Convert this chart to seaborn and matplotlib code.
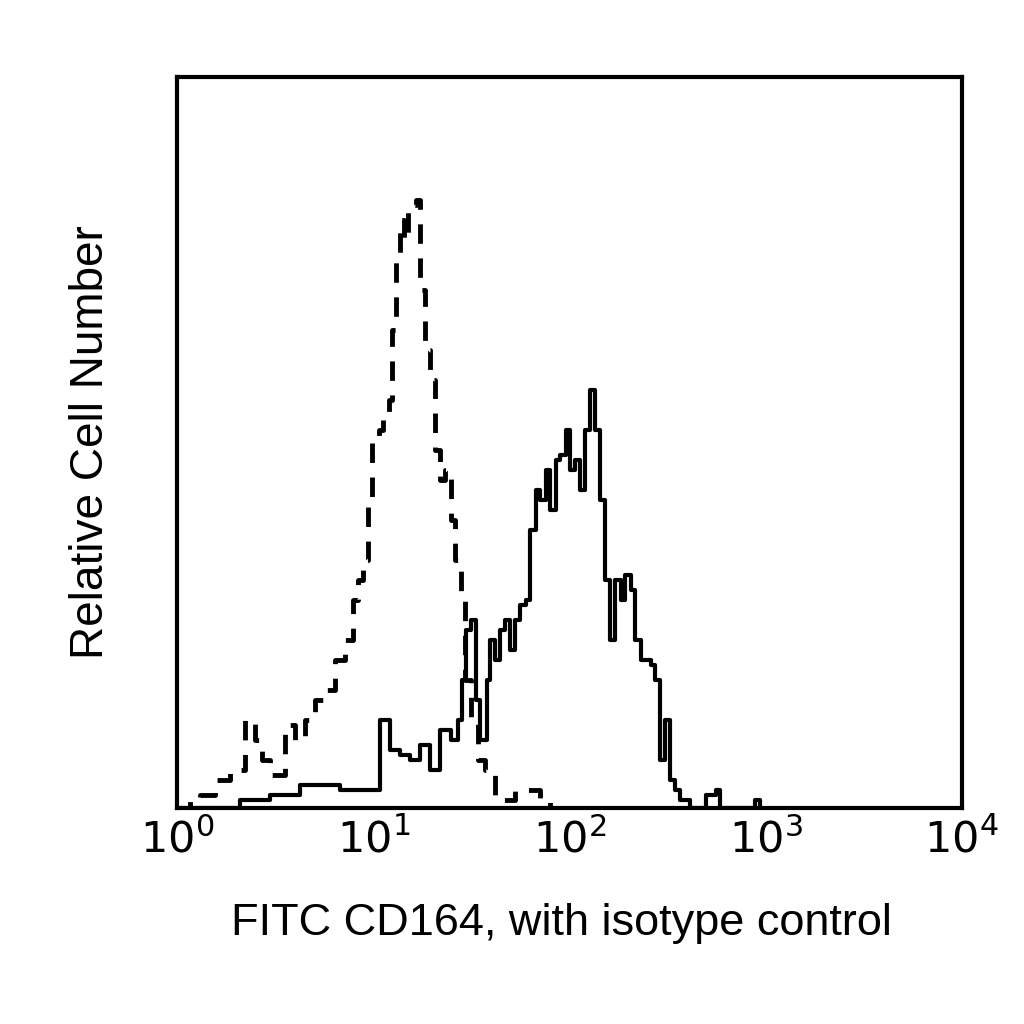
import matplotlib
matplotlib.use("Agg")
import matplotlib.pyplot as plt
import numpy as np
import pandas as pd
import seaborn as sns

# channel numbers (1024 channels over 4 log decades) and relative counts
iso_channel = [0, 17, 30, 50, 69, 89, 102, 111, 121, 141, 154, 167, 180, 193, 206, 219, 229, 236,
               242, 249, 255, 263, 269, 276, 281, 286, 291, 296, 302, 307, 312, 317, 324, 330,
               337, 343, 350, 357, 363, 370, 376, 383, 393, 402, 415, 441, 474, 487]
iso_count = [0, 8, 13, 28, 38, 88, 68, 48, 33, 83, 68, 88, 108, 118, 148, 168, 208, 228,
             248, 308, 368, 378, 393, 408, 478, 548, 588, 568, 598, 603, 608, 518, 458, 428,
             358, 328, 338, 288, 248, 208, 128, 88, 48, 38, 8, 18, 8, 0]

cd164_channel = [4, 82, 121, 161, 213, 252, 265, 278, 291, 304, 317, 330, 343, 357, 367, 372,
                 377, 383, 390, 396, 404, 409, 415, 422, 428, 435, 441, 448, 456, 461, 468, 474,
                 481, 487, 494, 500, 507, 513, 520, 526, 533, 539, 546, 552, 559, 565, 572, 579,
                 585, 592, 598, 605, 618, 624, 631, 637, 644, 650, 657, 670, 690, 703, 709, 755, 761]
cd164_count = [0, 8, 13, 23, 18, 18, 88, 58, 53, 48, 63, 38, 78, 68, 88, 128,
               178, 188, 108, 68, 128, 168, 148, 178, 188, 158, 188, 203, 208, 278, 318, 308,
               338, 298, 348, 353, 378, 338, 348, 318, 378, 418, 378, 308, 228, 168, 228, 208,
               233, 218, 168, 148, 143, 128, 48, 88, 28, 18, 8, 0, 13, 18, 0, 8, 0]

iso = pd.DataFrame({"fl": 10 ** (np.array(iso_channel) / 256), "count": iso_count})
cd = pd.DataFrame({"fl": 10 ** (np.array(cd164_channel) / 256), "count": cd164_count})

sns.set_theme(style="white")
plt.rcParams["font.family"] = ["Liberation Sans", "DejaVu Sans"]
plt.rcParams["text.color"] = "black"
plt.rcParams["axes.labelcolor"] = "black"
plt.rcParams["xtick.color"] = "black"

fig = plt.figure(figsize=(10.24, 10.24), dpi=100)
ax = fig.add_axes([0.173, 0.211, 0.766, 0.714])

sns.lineplot(data=iso, x="fl", y="count", ax=ax, color="black", lw=3.5,
             drawstyle="steps-post", linestyle=(0, (4, 3)))
sns.lineplot(data=cd, x="fl", y="count", ax=ax, color="black", lw=3,
             drawstyle="steps-post")

ax.set_xscale("log")
ax.set_xlim(1, 1e4)
ax.set_ylim(0, 731)
ax.set_xticks([1, 10, 100, 1000, 10000])
ax.set_xticklabels([r"$10^{0}$", r"$10^{1}$", r"$10^{2}$", r"$10^{3}$", r"$10^{4}$"])
ax.minorticks_off()
ax.set_yticks([])
ax.tick_params(axis="x", labelsize=31, pad=8, length=0)
ax.set_xlabel("FITC CD164, with isotype control", fontsize=32.5, labelpad=26)
ax.xaxis.set_label_coords(0.49, -0.13)
ax.set_ylabel("Relative Cell Number", fontsize=33, labelpad=46)
for s in ax.spines.values():
    s.set_color("black")
    s.set_linewidth(3)

fig.savefig("out.png", dpi=100)
